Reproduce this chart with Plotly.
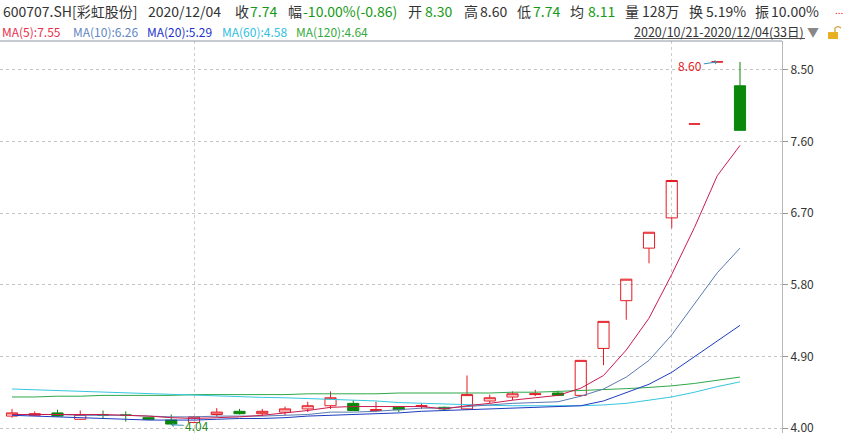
import plotly.graph_objects as go

# ---------------- data ----------------
dates = ["10/21", "10/22", "10/23", "10/26", "10/27", "10/28", "10/29", "10/30",
         "11/02", "11/03", "11/04", "11/05", "11/06", "11/09", "11/10", "11/11",
         "11/12", "11/13", "11/16", "11/17", "11/18", "11/19", "11/20", "11/23",
         "11/24", "11/25", "11/26", "11/27", "11/30", "12/01", "12/02", "12/03", "12/04"]

opens = [4.15, 4.16, 4.19, 4.11, 4.17, 4.165, 4.13, 4.10, 4.07, 4.17, 4.21, 4.18, 4.20,
         4.24, 4.28, 4.31, 4.22, 4.26, 4.27, 4.26, 4.24, 4.34, 4.39, 4.42, 4.44, 4.41,
         5.00, 5.60, 6.26, 6.64, 7.82, 8.60, 8.30]
highs = [4.24, 4.21, 4.23, 4.22, 4.22, 4.21, 4.14, 4.17, 4.15, 4.25, 4.24, 4.24, 4.27,
         4.33, 4.46, 4.35, 4.33, 4.26, 4.31, 4.27, 4.66, 4.42, 4.46, 4.48, 4.47, 4.85,
         5.34, 5.87, 6.46, 7.11, 7.82, 8.60, 8.60]
lows = [4.13, 4.15, 4.14, 4.10, 4.12, 4.08, 4.10, 4.04, 4.06, 4.14, 4.17, 4.15, 4.16,
        4.20, 4.24, 4.22, 4.20, 4.20, 4.24, 4.22, 4.23, 4.31, 4.35, 4.40, 4.40, 4.40,
        4.79, 5.36, 6.07, 6.51, 7.82, 8.60, 7.74]
closes = [4.19, 4.18, 4.15, 4.17, 4.16, 4.16, 4.11, 4.05, 4.14, 4.20, 4.18, 4.21, 4.24,
          4.28, 4.38, 4.22, 4.23, 4.23, 4.28, 4.24, 4.42, 4.38, 4.43, 4.43, 4.41, 4.85,
          5.34, 5.87, 6.46, 7.11, 7.82, 8.60, 7.74]

ma5 = [4.17, 4.17, 4.17, 4.17, 4.17, 4.16, 4.15, 4.13, 4.12, 4.13, 4.14, 4.16, 4.19,
       4.22, 4.26, 4.27, 4.27, 4.27, 4.27, 4.24, 4.28, 4.31, 4.35, 4.38, 4.41, 4.50,
       4.66, 4.98, 5.38, 5.93, 6.52, 7.17, 7.55]
ma10 = [4.17, 4.17, 4.17, 4.16, 4.16, 4.16, 4.15, 4.14, 4.14, 4.15, 4.15, 4.15, 4.16,
        4.17, 4.20, 4.20, 4.21, 4.23, 4.25, 4.25, 4.27, 4.29, 4.31, 4.32, 4.33, 4.40,
        4.49, 4.64, 4.85, 5.17, 5.56, 5.95, 6.26]
ma20 = [4.16, 4.15, 4.14, 4.13, 4.12, 4.11, 4.10, 4.10, 4.10, 4.11, 4.12, 4.12, 4.13,
        4.15, 4.16, 4.17, 4.18, 4.19, 4.21, 4.22, 4.23, 4.24, 4.25, 4.26, 4.27, 4.28,
        4.34, 4.44, 4.55, 4.70, 4.90, 5.09, 5.29]
ma60 = [4.49, 4.48, 4.47, 4.46, 4.45, 4.44, 4.43, 4.42, 4.41, 4.40, 4.39, 4.385, 4.38,
        4.37, 4.36, 4.35, 4.34, 4.32, 4.31, 4.30, 4.29, 4.285, 4.28, 4.28, 4.28, 4.28,
        4.29, 4.31, 4.35, 4.39, 4.45, 4.52, 4.58]
ma120 = [4.39, 4.39, 4.40, 4.40, 4.41, 4.41, 4.41, 4.41, 4.42, 4.42, 4.42, 4.42, 4.42,
         4.43, 4.43, 4.43, 4.43, 4.44, 4.44, 4.44, 4.44, 4.44, 4.45, 4.45, 4.46, 4.47,
         4.48, 4.495, 4.51, 4.53, 4.56, 4.60, 4.64]

price_ticks = [4.00, 4.90, 5.80, 6.70, 7.60, 8.50]
month_starts = ["11/02", "12/01"]

# ---------------- styling ----------------
W, H = 844, 435
ML, MR, MT, MB = 0, 62, 41, 0
PW, PH = W - ML - MR, H - MT - MB

RED = "#e41a22"
GREEN = "#0a880a"
TXT = "#333333"
GTXT = "#159a15"
FONT = "Microsoft YaHei, Noto Sans CJK SC, sans-serif"

xs = list(range(len(dates)))
up = [c >= o for o, c in zip(opens, closes)]


def subset(vals, flag):
    return [v for v, f in zip(vals, up) if f == flag]


fig = go.Figure()

for flag, lc, fc in [(True, RED, "rgba(255,255,255,0)"), (False, GREEN, GREEN)]:
    fig.add_trace(go.Candlestick(
        x=subset(xs, flag), open=subset(opens, flag), high=subset(highs, flag),
        low=subset(lows, flag), close=subset(closes, flag),
        increasing=dict(line=dict(color=lc, width=1), fillcolor=fc),
        decreasing=dict(line=dict(color=lc, width=1), fillcolor=fc),
        whiskerwidth=0, hoverinfo="skip", showlegend=False))

ma_specs = [(ma120, "#2fa84a"), (ma60, "#36c6e0"), (ma20, "#1c3cbf"),
            (ma10, "#5a7bb0"), (ma5, "#cc1a4e")]
for vals, col in ma_specs:
    fig.add_trace(go.Scatter(x=xs, y=vals, mode="lines",
                             line=dict(color=col, width=1),
                             hoverinfo="skip", showlegend=False))

# x range so that first candle is at px 12, last at px 740
x0 = -12 / (740 - 12) * (len(xs) - 1)
x1 = (PW - 12) / (740 - 12) * (len(xs) - 1)
# y range: 8.50 at px 70, 80 px per unit
pxu = 80.0
y_top = 8.50 + (70 - MT) / pxu
y_bot = 8.50 - (H - MB - 70) / pxu

fig.update_layout(
    width=W, height=H,
    margin=dict(l=ML, r=MR, t=MT, b=MB, pad=0),
    paper_bgcolor="white", plot_bgcolor="white",
    font=dict(family=FONT, size=12, color=TXT),
    showlegend=False,
    boxgap=0.3,
    xaxis=dict(range=[x0, x1], tickvals=[dates.index(d) for d in month_starts],
               showticklabels=False, ticks="", showgrid=True, gridcolor="#cccccc",
               griddash="dot", gridwidth=1, zeroline=False, showline=False,
               rangeslider=dict(visible=False), fixedrange=True),
    yaxis=dict(range=[y_bot, y_top], side="right", tickvals=price_ticks,
               tickformat=".2f", showgrid=True, gridcolor="#c4c4c4", griddash="dot",
               gridwidth=1, zeroline=False, showline=True, linecolor="#b8b8b8",
               linewidth=1, ticks="outside", ticklen=5, tickcolor="#999999",
               ticklabeloverflow="allow",
               tickfont=dict(size=12, color=TXT), fixedrange=True),
)


def px(x):
    return (x - ML) / PW


def py(y):
    return (H - MB - y) / PH


anns = []


def txt(x, y, s, color=TXT, size=14):
    anns.append(dict(x=px(x), y=py(y), xref="paper", yref="paper", text=s,
                     showarrow=False, xanchor="left", yanchor="middle",
                     font=dict(color=color, size=size, family=FONT), borderpad=0))


L1 = 11
txt(2, L1, "600707.SH[彩虹股份]")
txt(147, L1, "2020/12/04")
txt(234, L1, "收")
txt(249, L1, "7.74", GTXT)
txt(287, L1, "幅")
txt(302, L1, "-10.00%(-0.86)", GTXT)
txt(407, L1, "开")
txt(424, L1, "8.30", GTXT)
txt(463, L1, "高")
txt(479, L1, "8.60")
txt(516, L1, "低")
txt(532, L1, "7.74", GTXT)
txt(569, L1, "均")
txt(587, L1, "8.11", GTXT)
txt(624, L1, "量")
txt(641, L1, "128万")
txt(688, L1, "换")
txt(705, L1, "5.19%")
txt(754, L1, "振")
txt(770, L1, "10.00%")
txt(834, L1 - 2, "...", "#e02020", 10)

L2 = 31
txt(1, L2, "MA(5):7.55", "#e8304a", 12)
txt(72, L2, "MA(10):6.26", "#5f86c4", 12)
txt(146, L2, "MA(20):5.29", "#2233cc", 12)
txt(221, L2, "MA(60):4.58", "#30c0e0", 12)
txt(295, L2, "MA(120):4.64", "#35aa3a", 12)
txt(633, L2, "2020/10/21-2020/12/04(33日)", TXT, 12.5)
txt(806, L2, "▼", "#888888", 12)

# max / min markers
hi_i = highs.index(max(highs))
lo_i = lows.index(min(lows))
anns.append(dict(x=hi_i, y=highs[hi_i], xref="x", yref="y", text=f"{highs[hi_i]:.2f}",
                 showarrow=True, ax=-27, ay=4, arrowhead=1, arrowsize=0.8, arrowwidth=1,
                 arrowcolor="#3a8fb8", standoff=0, font=dict(color=RED, size=12)))
anns.append(dict(x=lo_i, y=lows[lo_i], xref="x", yref="y", text=f"{lows[lo_i]:.2f}",
                 showarrow=True, ax=26, ay=1, arrowhead=1, arrowsize=0.8, arrowwidth=1,
                 arrowcolor="#3a8fb8", standoff=0, font=dict(color="#2a8a2a", size=12)))

fig.update_layout(annotations=anns)

shapes = [
    # top border of chart area
    dict(type="line", xref="paper", yref="paper", x0=0, x1=1, y0=1, y1=1,
         line=dict(color="#8a96a2", width=1)),
    # underline of date range
    dict(type="line", xref="paper", yref="paper", x0=px(634), x1=px(805),
         y0=py(38.5), y1=py(38.5), line=dict(color="#555555", width=1)),
    # lock icon
    dict(type="rect", xref="paper", yref="paper", x0=px(828), x1=px(838),
         y0=py(39), y1=py(32), fillcolor="#e8b020", line=dict(width=0)),
    dict(type="path", xref="paper", yref="paper",
         path=f"M {px(835)} {py(32)} L {px(835)} {py(28)} Q {px(838)} {py(25)} {px(841)} {py(28)}",
         line=dict(color="#c89a30", width=1.2)),
]
fig.update_layout(shapes=shapes)

fig.write_html("out.html", config={"displayModeBar": False},
               post_script="document.body.style.margin='0';document.body.style.padding='0';")
